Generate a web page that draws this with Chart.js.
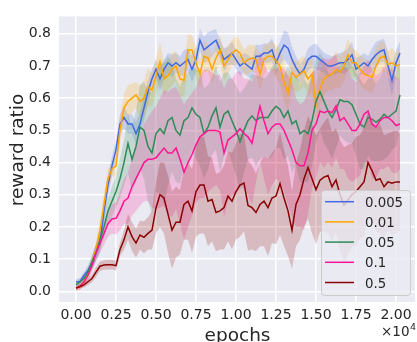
<!DOCTYPE html>
<html>
<head>
<meta charset="utf-8">
<script src="https://cdn.jsdelivr.net/npm/chart.js@4.4.1/dist/chart.umd.min.js"></script>
<style>
html, body { margin: 0; padding: 0; background: #fff; }
canvas { display: block; }
</style>
</head>
<body>
<canvas id="c" width="417" height="342"></canvas>
<script>
const EPOCHS = [
    0, 250, 500, 750, 1000, 1250, 1500, 1750, 2000, 2250,
    2500, 2750, 3000, 3250, 3500, 3750, 4000, 4250, 4500, 4750,
    5000, 5250, 5500, 5750, 6000, 6250, 6500, 6750, 7000, 7250,
    7500, 7750, 8000, 8250, 8500, 8750, 9000, 9250, 9500, 9750,
    10000, 10250, 10500, 10750, 11000, 11250, 11500, 11750, 12000, 12250,
    12500, 12750, 13000, 13250, 13500, 13750, 14000, 14250, 14500, 14750,
    15000, 15250, 15500, 15750, 16000, 16250, 16500, 16750, 17000, 17250,
    17500, 17750, 18000, 18250, 18500, 18750, 19000, 19250, 19500, 19750,
    20000, 20250
];

const SERIES_LABELS = ['0.005', '0.01', '0.05', '0.1', '0.5'];
const SERIES_COLORS = ['#4169e1', '#ffa500', '#2e8b57', '#ff1493', '#8b0000'];

// mean reward ratio per series
const R_0005 = [
    0.03, 0.03, 0.05, 0.065, 0.09, 0.12, 0.15, 0.25, 0.33, 0.39,
    0.44, 0.52, 0.54, 0.52, 0.52, 0.49, 0.52, 0.57, 0.62, 0.66,
    0.69, 0.66, 0.69, 0.71, 0.70, 0.71, 0.70, 0.71, 0.72, 0.69,
    0.72, 0.78, 0.75, 0.76, 0.77, 0.78, 0.75, 0.72, 0.73, 0.74,
    0.72, 0.70, 0.71, 0.70, 0.69, 0.73, 0.73, 0.74, 0.74, 0.75,
    0.71, 0.74, 0.765, 0.755, 0.72, 0.695, 0.675, 0.69, 0.72, 0.73,
    0.73, 0.72, 0.71, 0.70, 0.70, 0.705, 0.71, 0.71, 0.72, 0.735,
    0.69, 0.70, 0.71, 0.70, 0.72, 0.735, 0.745, 0.75, 0.70, 0.655,
    0.71, 0.74
];
const R_001 = [
    0.01, 0.015, 0.03, 0.05, 0.09, 0.13, 0.19, 0.27, 0.35, 0.38,
    0.39, 0.50, 0.57, 0.59, 0.60, 0.61, 0.59, 0.60, 0.635, 0.625,
    0.67, 0.714, 0.66, 0.67, 0.69, 0.70, 0.66, 0.655, 0.75, 0.75,
    0.71, 0.675, 0.73, 0.725, 0.69, 0.725, 0.75, 0.70, 0.72, 0.74,
    0.75, 0.74, 0.71, 0.72, 0.725, 0.72, 0.675, 0.72, 0.73, 0.73,
    0.715, 0.70, 0.65, 0.615, 0.68, 0.665, 0.675, 0.685, 0.66, 0.675,
    0.58, 0.63, 0.66, 0.67, 0.675, 0.69, 0.68, 0.70, 0.735, 0.71,
    0.71, 0.69, 0.675, 0.67, 0.665, 0.70, 0.725, 0.73, 0.705, 0.71,
    0.70, 0.705
];
const R_005 = [
    0.02, 0.03, 0.04, 0.06, 0.09, 0.12, 0.16, 0.20, 0.25, 0.28,
    0.31, 0.35, 0.40, 0.46, 0.41, 0.45, 0.51, 0.50, 0.45, 0.43,
    0.49, 0.505, 0.49, 0.53, 0.54, 0.50, 0.485, 0.53, 0.54, 0.57,
    0.55, 0.54, 0.49, 0.51, 0.545, 0.57, 0.51, 0.55, 0.56, 0.53,
    0.50, 0.465, 0.50, 0.53, 0.545, 0.53, 0.54, 0.54, 0.54, 0.56,
    0.575, 0.565, 0.54, 0.56, 0.52, 0.53, 0.49, 0.50, 0.49, 0.53,
    0.59, 0.62, 0.59, 0.56, 0.54, 0.565, 0.595, 0.59, 0.59, 0.58,
    0.55, 0.52, 0.51, 0.54, 0.535, 0.525, 0.535, 0.55, 0.54, 0.55,
    0.56, 0.61
];
const R_01 = [
    0.01, 0.015, 0.03, 0.05, 0.08, 0.12, 0.15, 0.18, 0.21, 0.225,
    0.227, 0.25, 0.28, 0.29, 0.325, 0.35, 0.375, 0.40, 0.41, 0.41,
    0.415, 0.43, 0.445, 0.43, 0.43, 0.445, 0.41, 0.37, 0.40, 0.425,
    0.455, 0.48, 0.49, 0.50, 0.50, 0.50, 0.495, 0.43, 0.47, 0.48,
    0.49, 0.505, 0.49, 0.48, 0.46, 0.52, 0.575, 0.53, 0.49, 0.51,
    0.52, 0.52, 0.50, 0.47, 0.44, 0.40, 0.39, 0.39, 0.43, 0.50,
    0.52, 0.56, 0.555, 0.56, 0.555, 0.576, 0.53, 0.54, 0.52, 0.50,
    0.50, 0.52, 0.55, 0.56, 0.52, 0.51, 0.53, 0.54, 0.54, 0.53,
    0.515, 0.52
];
const R_05 = [
    0.01, 0.015, 0.02, 0.03, 0.04, 0.06, 0.078, 0.082, 0.083, 0.083,
    0.08, 0.13, 0.16, 0.20, 0.17, 0.15, 0.175, 0.168, 0.18, 0.19,
    0.26, 0.30, 0.29, 0.24, 0.19, 0.215, 0.215, 0.27, 0.28, 0.25,
    0.31, 0.33, 0.33, 0.28, 0.285, 0.245, 0.25, 0.26, 0.296, 0.28,
    0.31, 0.33, 0.336, 0.267, 0.26, 0.245, 0.27, 0.28, 0.26, 0.29,
    0.296, 0.335, 0.29, 0.25, 0.19, 0.27, 0.30, 0.35, 0.385, 0.35,
    0.316, 0.345, 0.355, 0.36, 0.325, 0.346, 0.30, 0.268, 0.285, 0.30,
    0.31, 0.325, 0.34, 0.40, 0.375, 0.345, 0.35, 0.325, 0.34, 0.336,
    0.34, 0.34
];

// half-width of the shaded band per series
const SD_0005 = [
    0.01, 0.01, 0.012, 0.015, 0.02, 0.025, 0.03, 0.035, 0.035, 0.03,
    0.03, 0.03, 0.035, 0.03, 0.03, 0.035, 0.035, 0.04, 0.035, 0.03,
    0.03, 0.035, 0.03, 0.03, 0.035, 0.03, 0.03, 0.04, 0.035, 0.04,
    0.04, 0.035, 0.04, 0.045, 0.04, 0.035, 0.03, 0.035, 0.03, 0.035,
    0.03, 0.03, 0.03, 0.035, 0.03, 0.035, 0.035, 0.03, 0.03, 0.035,
    0.04, 0.035, 0.045, 0.05, 0.04, 0.035, 0.03, 0.03, 0.035, 0.035,
    0.04, 0.035, 0.03, 0.035, 0.03, 0.03, 0.03, 0.035, 0.035, 0.04,
    0.035, 0.03, 0.03, 0.03, 0.035, 0.04, 0.035, 0.035, 0.04, 0.045,
    0.04, 0.035
];
const SD_001 = [
    0.008, 0.01, 0.012, 0.015, 0.02, 0.025, 0.03, 0.035, 0.03, 0.025,
    0.03, 0.04, 0.045, 0.05, 0.045, 0.04, 0.05, 0.055, 0.06, 0.05,
    0.055, 0.06, 0.05, 0.045, 0.05, 0.045, 0.05, 0.055, 0.05, 0.045,
    0.05, 0.045, 0.05, 0.04, 0.045, 0.04, 0.045, 0.05, 0.045, 0.04,
    0.045, 0.04, 0.04, 0.045, 0.04, 0.045, 0.05, 0.045, 0.04, 0.045,
    0.05, 0.055, 0.06, 0.055, 0.05, 0.045, 0.05, 0.045, 0.05, 0.055,
    0.06, 0.055, 0.05, 0.045, 0.05, 0.055, 0.05, 0.045, 0.05, 0.045,
    0.04, 0.045, 0.05, 0.045, 0.05, 0.055, 0.05, 0.045, 0.04, 0.045,
    0.04, 0.045
];
const SD_005 = [
    0.008, 0.01, 0.012, 0.015, 0.02, 0.025, 0.03, 0.035, 0.04, 0.045,
    0.05, 0.06, 0.07, 0.09, 0.10, 0.11, 0.13, 0.15, 0.17, 0.19,
    0.18, 0.20, 0.22, 0.20, 0.17, 0.16, 0.15, 0.14, 0.14, 0.13,
    0.14, 0.15, 0.14, 0.13, 0.12, 0.13, 0.14, 0.13, 0.12, 0.13,
    0.14, 0.15, 0.13, 0.12, 0.13, 0.14, 0.13, 0.12, 0.13, 0.14,
    0.13, 0.12, 0.13, 0.14, 0.15, 0.14, 0.15, 0.16, 0.15, 0.14,
    0.13, 0.12, 0.13, 0.12, 0.13, 0.12, 0.11, 0.12, 0.13, 0.12,
    0.13, 0.14, 0.13, 0.12, 0.13, 0.12, 0.13, 0.14, 0.12, 0.11,
    0.11, 0.10
];
const SD_01 = [
    0.008, 0.01, 0.012, 0.015, 0.02, 0.025, 0.03, 0.035, 0.04, 0.045,
    0.05, 0.06, 0.07, 0.08, 0.09, 0.10, 0.11, 0.12, 0.13, 0.15,
    0.16, 0.17, 0.18, 0.19, 0.20, 0.19, 0.20, 0.21, 0.20, 0.19,
    0.18, 0.19, 0.20, 0.19, 0.18, 0.17, 0.18, 0.20, 0.19, 0.18,
    0.19, 0.18, 0.17, 0.18, 0.19, 0.18, 0.17, 0.18, 0.19, 0.18,
    0.17, 0.18, 0.19, 0.20, 0.21, 0.20, 0.19, 0.20, 0.19, 0.18,
    0.17, 0.16, 0.17, 0.16, 0.17, 0.16, 0.15, 0.16, 0.17, 0.16,
    0.15, 0.16, 0.15, 0.16, 0.17, 0.16, 0.15, 0.16, 0.15, 0.16,
    0.15, 0.14
];
const SD_05 = [
    0.005, 0.006, 0.008, 0.01, 0.012, 0.015, 0.015, 0.015, 0.015, 0.015,
    0.015, 0.02, 0.03, 0.04, 0.045, 0.045, 0.045, 0.05, 0.05, 0.06,
    0.08, 0.10, 0.11, 0.12, 0.12, 0.11, 0.10, 0.11, 0.12, 0.13,
    0.14, 0.15, 0.15, 0.14, 0.13, 0.12, 0.12, 0.13, 0.14, 0.15,
    0.15, 0.16, 0.15, 0.14, 0.13, 0.12, 0.13, 0.14, 0.15, 0.14,
    0.15, 0.16, 0.15, 0.14, 0.12, 0.13, 0.14, 0.15, 0.16, 0.17,
    0.17, 0.16, 0.17, 0.18, 0.17, 0.16, 0.17, 0.18, 0.17, 0.16,
    0.17, 0.16, 0.17, 0.16, 0.15, 0.16, 0.17, 0.16, 0.15, 0.16,
    0.16, 0.15
];

const X_TICKS = [0, 2500, 5000, 7500, 10000, 12500, 15000, 17500, 20000];
const X_TICK_LABELS = ['0.00', '0.25', '0.50', '0.75', '1.00', '1.25', '1.50', '1.75', '2.00'];
const Y_TICKS = [0, 0.1, 0.2, 0.3, 0.4, 0.5, 0.6, 0.7, 0.8];
const Y_TICK_LABELS = ['0.0', '0.1', '0.2', '0.3', '0.4', '0.5', '0.6', '0.7', '0.8'];

const MEANS = [R_0005, R_001, R_005, R_01, R_05];
const SPREADS = [SD_0005, SD_001, SD_005, SD_01, SD_05];

const FONT = 'DejaVu Sans';
const TEXT = '#262626';

const rgba = (hex, a) => {
    const n = parseInt(hex.slice(1), 16);
    return `rgba(${n >> 16},${(n >> 8) & 255},${n & 255},${a})`;
};
const pts = ys => ys.map((y, i) => ({ x: EPOCHS[i], y }));

// bands first (higher order = drawn earlier), then all the lines on top
const datasets = [];
MEANS.forEach((m, k) => {
    const sd = SPREADS[k], col = SERIES_COLORS[k];
    datasets.push({ data: pts(m.map((v, i) => v + sd[i])), borderColor: 'rgba(0,0,0,0)', borderWidth: 0, pointRadius: 0, fill: false, order: 200 - 10 * k + 1 });
    datasets.push({ data: pts(m.map((v, i) => v - sd[i])), borderColor: 'rgba(0,0,0,0)', borderWidth: 0, pointRadius: 0, fill: 3 * k, backgroundColor: rgba(col, 0.2), order: 200 - 10 * k });
    datasets.push({ label: SERIES_LABELS[k], data: pts(m), borderColor: col, borderWidth: 1.5, pointRadius: 0, fill: false, order: 100 - 10 * k });
});

const decor = {
    id: 'decor',
    beforeDraw(chart) {
        const { ctx, chartArea: a } = chart;
        ctx.save();
        ctx.fillStyle = '#eaeaf2';
        ctx.fillRect(a.left, a.top, a.right - a.left, a.bottom - a.top);
        ctx.restore();
    },
    afterDraw(chart) {
        const { ctx } = chart;
        ctx.save();
        ctx.fillStyle = TEXT;
        // axis titles
        ctx.font = `18.5px "${FONT}"`;
        ctx.textAlign = 'center';
        ctx.textBaseline = 'alphabetic';
        ctx.fillText('epochs', 237.5, 340.5);
        ctx.save();
        ctx.translate(22.5, 150);
        ctx.rotate(-Math.PI / 2);
        ctx.fillText('reward ratio', 0, 0);
        ctx.restore();
        // offset text
        ctx.textAlign = 'left';
        ctx.font = `13.5px "${FONT}"`;
        ctx.fillText('×10', 381, 336);
        const w = ctx.measureText('×10').width;
        ctx.font = `9.5px "${FONT}"`;
        ctx.fillText('4', 381 + w + 0.5, 330);
        // legend
        const lx = 321.5, ly = 190.5, lw = 89, lh = 105;
        ctx.beginPath();
        ctx.roundRect(lx, ly, lw, lh, 3);
        ctx.fillStyle = 'rgba(234,234,242,0.8)';
        ctx.fill();
        ctx.strokeStyle = '#cccccc';
        ctx.lineWidth = 1;
        ctx.stroke();
        ctx.font = `13.3px "${FONT}"`;
        SERIES_LABELS.forEach((lab, j) => {
            const y = 201.7 + 20.2 * j;
            ctx.beginPath();
            ctx.moveTo(325, y);
            ctx.lineTo(354, y);
            ctx.strokeStyle = SERIES_COLORS[j];
            ctx.lineWidth = 1.5;
            ctx.stroke();
            ctx.fillStyle = TEXT;
            ctx.fillText(lab, 365, y + 5);
        });
        ctx.restore();
    }
};

Chart.defaults.font.family = FONT;

new Chart(document.getElementById('c'), {
    type: 'line',
    data: { datasets },
    options: {
        responsive: false,
        animation: false,
        devicePixelRatio: 1,
        layout: { padding: { top: 5, right: 2, left: 0, bottom: 0 } },
        plugins: { legend: { display: false }, tooltip: { enabled: false } },
        scales: {
            x: {
                type: 'linear', min: -1062, max: 21187,
                afterBuildTicks: s => { s.ticks = X_TICKS.map(v => ({ value: v })); },
                afterFit: s => { s.height = 40; },
                ticks: { callback: (v, i) => X_TICK_LABELS[i], font: { size: 14 }, color: TEXT, padding: 5, maxRotation: 0, autoSkip: false },
                grid: { color: '#ffffff', lineWidth: 1.5, drawTicks: false },
                border: { display: false }
            },
            y: {
                min: -0.033, max: 0.854,
                afterBuildTicks: s => { s.ticks = Y_TICKS.map(v => ({ value: v })); },
                afterFit: s => { s.width = 59; },
                ticks: { callback: (v, i) => Y_TICK_LABELS[i], font: { size: 14 }, color: TEXT, padding: 8, autoSkip: false },
                grid: { color: '#ffffff', lineWidth: 1.5, drawTicks: false },
                border: { display: false }
            }
        }
    },
    plugins: [decor]
});
</script>
</body>
</html>
